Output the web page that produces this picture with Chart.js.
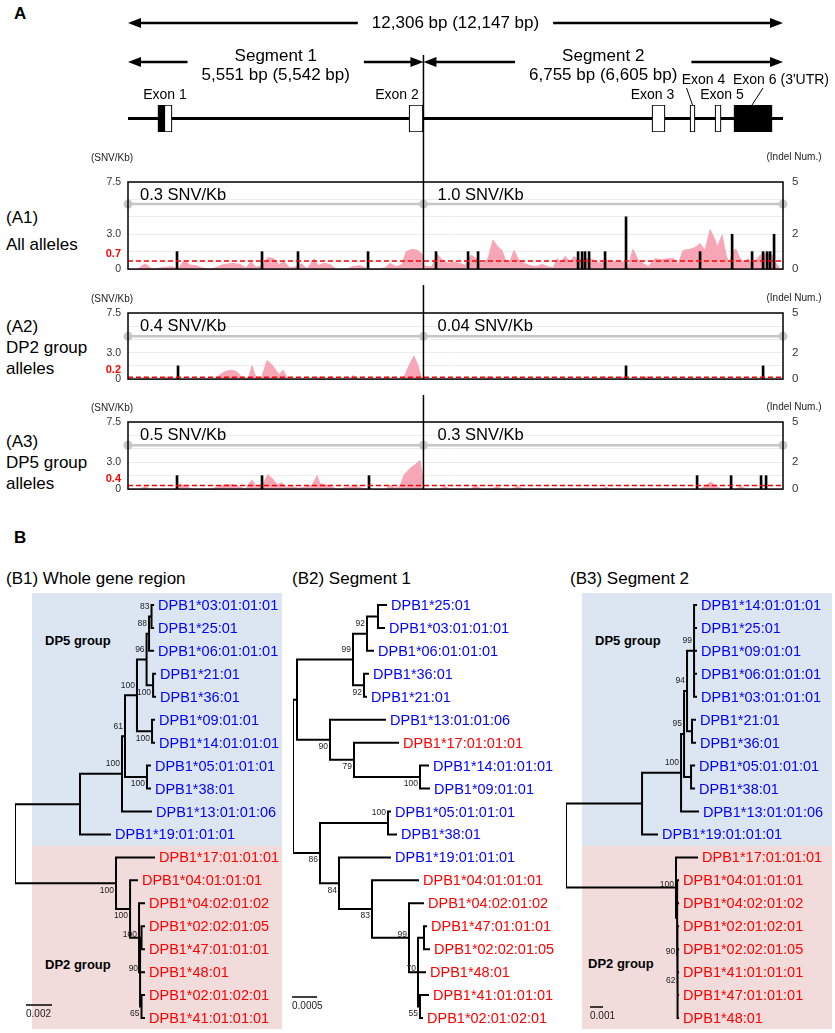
<!DOCTYPE html>
<html>
<head>
<meta charset="utf-8">
<script src="https://cdn.jsdelivr.net/npm/chart.js@4.4.1/dist/chart.umd.min.js"></script>
<style>
body { margin: 0; background: #fff; }
#page { position: relative; width: 835px; height: 1033px; overflow: hidden; font-family: "Liberation Sans", Arial, sans-serif; color: #000; }
canvas { position: absolute; }
.t { position: absolute; transform: translateY(-50%); white-space: nowrap; line-height: 1; }
.big { font-size: 17px; }
.bold { font-weight: bold; }
.grp { font-size: 13px; font-weight: bold; }
.shade { position: absolute; }
</style>
</head>
<body>
<div id="page">
  <div class="shade" style="left:32px;top:593px;width:250px;height:253px;background:#dce6f2"></div>
  <div class="shade" style="left:32px;top:846px;width:250px;height:183px;background:#f2dcdb"></div>
  <div class="shade" style="left:582px;top:593px;width:250px;height:253px;background:#dce6f2"></div>
  <div class="shade" style="left:582px;top:846px;width:250px;height:183px;background:#f2dcdb"></div>

  <div class="t big bold" style="left:14px;top:13px">A</div>
  <div class="t big" style="left:6px;top:217px">(A1)</div>
  <div class="t big" style="left:6px;top:244px">All alleles</div>
  <div class="t big" style="left:6px;top:326px">(A2)</div>
  <div class="t big" style="left:6px;top:347px">DP2 group</div>
  <div class="t big" style="left:6px;top:368px">alleles</div>
  <div class="t big" style="left:6px;top:441px">(A3)</div>
  <div class="t big" style="left:6px;top:462px">DP5 group</div>
  <div class="t big" style="left:6px;top:483px">alleles</div>

  <div class="t big bold" style="left:14px;top:537px">B</div>
  <div class="t big" style="left:6px;top:578px">(B1) Whole gene region</div>
  <div class="t big" style="left:292px;top:578px">(B2) Segment 1</div>
  <div class="t big" style="left:570px;top:578px">(B3) Segment 2</div>
  <div class="t grp" style="left:45px;top:640px">DP5 group</div>
  <div class="t grp" style="left:45px;top:964px">DP2 group</div>
  <div class="t grp" style="left:595px;top:640px">DP5 group</div>
  <div class="t grp" style="left:588px;top:963px">DP2 group</div>

  <canvas id="gene" width="835" height="150" style="left:0;top:0"></canvas>
  <canvas id="a1" width="835" height="135" style="left:0;top:150px"></canvas>
  <canvas id="a2" width="835" height="110" style="left:0;top:285px"></canvas>
  <canvas id="a3" width="835" height="110" style="left:0;top:395px"></canvas>
  <canvas id="b1" width="290" height="443" style="left:0;top:590px"></canvas>
  <canvas id="b2" width="280" height="443" style="left:285px;top:590px"></canvas>
  <canvas id="b3" width="280" height="443" style="left:555px;top:590px"></canvas>
</div>
<script>
// ---- gene structure (bp) ----
const geneLen = 12306;
const segBoundary = 5551;
const totalText = '12,306 bp (12,147 bp)';
const segNames = ['Segment 1', 'Segment 2'];
const segLenText = ['5,551 bp (5,542 bp)', '6,755 bp (6,605 bp)'];
const exonNames = ['Exon 1', 'Exon 2', 'Exon 3', 'Exon 4', 'Exon 5', "Exon 6 (3'UTR)"];
const exonStart = [564, 5280, 9845, 10559, 11029, 11386];
const exonEnd = [827, 5543, 10089, 10653, 11142, 12099];
const utrStart = [564, 11386];
const utrEnd = [695, 12099];

// ---- SNV density / indel panels ----
const segSnvPerKb = [[0.3, 1.0], [0.4, 0.04], [0.5, 0.3]];
const meanSnv = [0.7, 0.2, 0.4];
const refLevel = [5.6, 4.85, 4.9];

const a1Pos = [0,188,319,451,695,827,940,1052,1165,1278,1390,1541,1635,1766,1954,2104,2217,2311,2405,2518,2631,2743,2837,2931,3044,3157,3269,3363,3495,3570,3683,3796,3908,4115,4209,4359,4453,4585,4829,4923,5036,5149,5224,5336,5449,5524,5562,5637,5712,5806,5900,6013,6126,6238,6332,6445,6558,6652,6764,6858,6952,7027,7103,7178,7253,7328,7441,7554,7666,7779,7892,7986,8061,8136,8211,8305,8380,8456,8587,8681,8775,8869,8982,9094,9207,9320,9395,9489,9583,9677,9771,9902,10034,10147,10259,10335,10428,10560,10673,10748,10842,10936,11030,11068,11162,11237,11293,11368,11425,11500,11575,11650,11725,11800,11876,11988,12101,12176,12251,12306];
const a1Snv = [0,0,0.45,0,0.15,0.2,0,0.75,0.35,0.3,0.1,0,0.1,0.35,0.5,0.4,0.1,0.65,0.15,0.3,1.0,0.9,0.4,0.65,0.1,0.2,0.45,0,0.9,0.3,0.5,0.4,0,0,0.2,0.3,0.1,0,0.1,0.5,0.2,0.4,1.5,1.7,1.6,1.3,0.3,0.2,0.2,1.3,0.8,0.5,0.6,0.5,0.3,1.2,0.9,0.5,0.9,2.5,1.9,1.6,0.6,0.7,1.6,0.9,0.5,0.3,0.2,0.4,0.2,0.1,0.9,0.6,1.1,0.6,1.1,0.8,0.9,0.9,0.7,0.5,0.8,0.6,0.7,0.6,0.2,1.7,0.8,0.5,0.2,0.9,0.8,0.9,0.9,0.4,1.6,1.7,1.9,2.2,1.6,3.4,2.5,1.9,2.9,1.2,0.5,1.6,1.7,0.9,0.6,0.9,0.5,0.8,1.2,1.3,1.2,0.5,0,0];
const a1IndelPos = [921,2518,3194,4510,5787,6389,6577,8456,8531,8587,8663,8963,9357,10748,11350,11725,11932,12007,12063,12138];
const a1IndelNum = [1,1,1,1,1,1,1,1,1,1,1,1,3,1,2,1,1,1,1,2];

const a2Pos = [0,225,319,413,639,733,827,1635,1729,1841,1954,2048,2123,2217,2273,2330,2386,2442,2518,2612,2705,2781,2837,2912,2987,3044,3532,3607,3682,3739,3814,3889,4152,4227,4302,4810,4885,4960,5167,5242,5317,5373,5449,5505,5561,6689,6764,6839,7196,7271,7346,8887,8962,9037,9206,9281,9356,9676,9751,9826,12306];
const a2Snv = [0,0,0.25,0,0,0.25,0,0,0.5,0.9,1.0,0.8,0.3,0,0.3,1.5,0.5,0,0.3,2.1,1.6,1.0,0.5,1.0,0.2,0,0,0.3,0,0,0.3,0,0,0.4,0,0,0.3,0,0,1.0,2.0,2.6,1.5,0.3,0,0,0.3,0,0,0.3,0,0,0.3,0,0,0.3,0,0,0.3,0,0];
const a2IndelPos = [940, 9357, 11932];
const a2IndelNum = [1, 1, 1];

const a3Pos = [0,225,319,413,883,977,1090,1202,1578,1691,1841,1973,2104,2217,2273,2330,2405,2518,2630,2724,2799,2893,2969,3081,3194,3325,3457,3551,3607,3720,3833,3945,4133,4284,4396,4547,4847,4922,5016,5110,5186,5298,5411,5486,5542,5561,5862,5956,6050,6425,6538,6651,6839,6933,7027,7215,7327,7421,8905,8981,9056,10747,10860,10953,11047,11160,11423,11517,11611,12306];
const a3Snv = [0,0,0.3,0,0,0.6,0.3,0,0,0.3,0.5,0.5,0.2,0,0.6,1.0,0.3,0.4,1.6,1.1,0.5,0.7,0.2,0.3,0.1,0.2,0.4,1.5,0.6,0.5,0.2,0,0.2,0.3,0.1,0,0,0.4,0.1,0.3,1.6,2.3,2.8,3.2,1.0,0,0,0.3,0,0,0.35,0,0,0.3,0,0,0.3,0,0,0.2,0,0,0.4,0.8,0.3,0,0,0.3,0,0];
const a3IndelPos = [921, 2518, 4528, 10692, 11331, 11894, 11988];
const a3IndelNum = [1, 1, 1, 1, 1, 1, 1];

// ---- phylogenetic trees (branch depth in substitutions/site) ----
const dp2Alleles = ['DPB1*17:01:01:01','DPB1*04:01:01:01','DPB1*04:02:01:02','DPB1*02:02:01:05','DPB1*47:01:01:01','DPB1*48:01','DPB1*02:01:02:01','DPB1*41:01:01:01'];
const N = (d, b, c) => ({ d, b, c });
const L = (n, d) => ({ n, d });

const treeWhole = N(0, null, [
  N(0.0050, null, [
    N(0.00823, 100, [
      N(0.00846, 61, [
        N(0.00938, 100, [
          N(0.01012, 96, [
            N(0.01031, 88, [
              N(0.0105, 83, [L('DPB1*03:01:01:01', 0.01062), L('DPB1*25:01', 0.01062)]),
              L('DPB1*06:01:01:01', 0.01062)]),
            N(0.01062, 100, [L('DPB1*21:01', 0.01077), L('DPB1*36:01', 0.01077)])]),
          N(0.01054, 100, [L('DPB1*09:01:01', 0.01069), L('DPB1*14:01:01:01', 0.01069)])]),
        N(0.01015, 100, [L('DPB1*05:01:01:01', 0.01038), L('DPB1*38:01', 0.01038)])]),
      L('DPB1*13:01:01:06', 0.01046)]),
    L('DPB1*19:01:01:01', 0.00731)]),
  N(0.00777, 100, [
    L('DPB1*17:01:01:01', 0.01069),
    N(0.00885, 100, [
      L('DPB1*04:01:01:01', 0.00938),
      N(0.00954, 100, [
        L('DPB1*04:02:01:02', 0.00992),
        N(0.00962, 90, [
          N(0.00973, null, [L('DPB1*02:02:01:05', 0.00992), L('DPB1*47:01:01:01', 0.00992)]),
          L('DPB1*48:01', 0.00992),
          N(0.00973, 65, [L('DPB1*02:01:02:01', 0.00992), L('DPB1*41:01:01:01', 0.00992)])])])])])]);

const treeSeg1 = N(0, null, [
  N(0.00008, null, [
    N(0.0012, 99, [
      N(0.00148, 92, [
        N(0.0017, null, [L('DPB1*25:01', 0.00186), L('DPB1*03:01:01:01', 0.00182)]),
        L('DPB1*06:01:01:01', 0.0016)]),
      N(0.00142, 92, [L('DPB1*36:01', 0.0015), L('DPB1*21:01', 0.00146)])]),
    N(0.00074, 90, [
      L('DPB1*13:01:01:06', 0.00184),
      N(0.00122, 79, [
        L('DPB1*17:01:01:01', 0.0021),
        N(0.00254, 100, [L('DPB1*14:01:01:01', 0.0027), L('DPB1*09:01:01', 0.00272)])])])]),
  N(0.00054, 86, [
    N(0.0019, 100, [L('DPB1*05:01:01:01', 0.00194), L('DPB1*38:01', 0.00206)]),
    N(0.00092, 84, [
      L('DPB1*19:01:01:01', 0.00194),
      N(0.00158, 83, [
        L('DPB1*04:01:01:01', 0.0025),
        N(0.00232, 99, [
          L('DPB1*04:02:01:02', 0.0026),
          N(0.0025, 70, [
            N(0.00262, null, [L('DPB1*47:01:01:01', 0.00266), L('DPB1*02:02:01:05', 0.00272)]),
            L('DPB1*48:01', 0.00264),
            N(0.00254, 55, [L('DPB1*41:01:01:01', 0.0027), L('DPB1*02:01:02:01', 0.00258)])])])])])])]);

const treeSeg2 = N(0, null, [
  N(0.00585, null, [
    N(0.00885, 100, [
      N(0.00908, 95, [
        N(0.00931, 94, [
          N(0.00985, 99, [L('DPB1*14:01:01:01', 0.01), L('DPB1*25:01', 0.01), L('DPB1*09:01:01', 0.01), L('DPB1*06:01:01:01', 0.01), L('DPB1*03:01:01:01', 0.01)]),
          N(0.00969, null, [L('DPB1*21:01', 0.00992), L('DPB1*36:01', 0.00992)])]),
        N(0.00962, null, [L('DPB1*05:01:01:01', 0.00985), L('DPB1*38:01', 0.00985)])]),
      L('DPB1*13:01:01:06', 0.01015)]),
    L('DPB1*19:01:01:01', 0.007)]),
  N(0.00846, 100, [
    L('DPB1*17:01:01:01', 0.01008),
    N(0.00854, null, [
      L('DPB1*04:01:01:01', 0.00862), L('DPB1*04:02:01:02', 0.00862),
      N(0.00856, 90, [
        L('DPB1*02:01:02:01', 0.00862),
        N(0.00858, 62, [L('DPB1*02:02:01:05', 0.00862), L('DPB1*41:01:01:01', 0.00862), L('DPB1*47:01:01:01', 0.00862), L('DPB1*48:01', 0.00862)])])])])]);

// ---------------------------------------------------------------
const FONT = '"Liberation Sans", Arial, sans-serif';
Chart.defaults.font.family = FONT;
Chart.defaults.color = '#222';
Chart.defaults.animation = false;
Chart.defaults.events = [];
Chart.defaults.plugins.legend.display = false;
Chart.defaults.plugins.tooltip.enabled = false;

// gene diagram: arrows, labels, exon captions
const geneDecor = {
  id: 'geneDecor',
  afterDraw(chart) {
    const { ctx, scales: { x }, chartArea: a } = chart;
    const px = v => x.getPixelForValue(v);
    ctx.save();
    ctx.fillStyle = '#000';
    ctx.strokeStyle = '#000';
    ctx.textAlign = 'center';
    ctx.textBaseline = 'middle';
    ctx.font = '17px ' + FONT;

    function arrow(x0, x1, y, lines, ty) {
      const c = (x0 + x1) / 2;
      const tw = Math.max(...lines.map(s => ctx.measureText(s).width));
      const g0 = c - tw / 2 - 14, g1 = c + tw / 2 + 14;
      const h = 13, w = 5;
      ctx.lineWidth = 2.5;
      ctx.beginPath();
      ctx.moveTo(x0 + h - 2, y); ctx.lineTo(g0, y);
      ctx.moveTo(g1, y); ctx.lineTo(x1 - h + 2, y);
      ctx.stroke();
      ctx.beginPath(); ctx.moveTo(x0, y); ctx.lineTo(x0 + h, y - w); ctx.lineTo(x0 + h, y + w); ctx.closePath(); ctx.fill();
      ctx.beginPath(); ctx.moveTo(x1, y); ctx.lineTo(x1 - h, y - w); ctx.lineTo(x1 - h, y + w); ctx.closePath(); ctx.fill();
      lines.forEach((s, k) => ctx.fillText(s, c, ty[k]));
    }
    arrow(px(0), px(geneLen), 23, [totalText], [23]);
    arrow(px(0), px(segBoundary), 62, [segNames[0], segLenText[0]], [56, 75]);
    arrow(px(segBoundary), px(geneLen), 62, [segNames[1], segLenText[1]], [56, 75]);

    // segment boundary
    ctx.lineWidth = 1.5;
    ctx.beginPath();
    ctx.moveTo(px(segBoundary), 55);
    ctx.lineTo(px(segBoundary), chart.height);
    ctx.stroke();

    // exon captions
    ctx.font = '14px ' + FONT;
    const dx = [0, -19, -6, 11, 4, 28];
    const high = [false, false, false, true, false, true];
    exonNames.forEach((nm, i) => {
      const cx = (px(exonStart[i]) + px(exonEnd[i])) / 2;
      const ly = high[i] ? 80 : 95;
      ctx.fillText(nm, cx + dx[i], ly);
      if (high[i]) {
        ctx.lineWidth = 1;
        ctx.beginPath();
        if (i === 3) { ctx.moveTo(cx - 6, 88); ctx.lineTo(cx, a.top); }
        else { ctx.moveTo(cx + 10, 88); ctx.lineTo(cx - 1, a.top); }
        ctx.stroke();
      }
    });
    ctx.restore();
  }
};

new Chart(document.getElementById('gene'), {
  type: 'bar',
  data: {
    datasets: [
      { type: 'line', data: [{ x: 0, y: 0 }, { x: geneLen, y: 0 }], borderColor: '#000', borderWidth: 3, pointRadius: 0, order: 3 },
      { indexAxis: 'y', data: exonStart.map((s, i) => ({ x: [s, exonEnd[i]], y: 0 })), backgroundColor: '#fff', borderColor: '#000', borderWidth: 1.2, borderSkipped: false, barThickness: 27, grouped: false, order: 2 },
      { indexAxis: 'y', data: utrStart.map((s, i) => ({ x: [s, utrEnd[i]], y: 0 })), backgroundColor: '#000', borderColor: '#000', borderWidth: 1.2, borderSkipped: false, barThickness: 27, grouped: false, order: 1 }
    ]
  },
  options: {
    responsive: false,
    layout: { padding: { left: 128, right: 52, top: 105, bottom: 18 } },
    scales: {
      x: { type: 'linear', min: 0, max: geneLen, display: false, offset: false },
      y: { type: 'linear', min: -1, max: 1, display: false, offset: false }
    }
  },
  plugins: [geneDecor]
});

// density panels
function fmtDensity(v) { return v < 0.1 ? v.toFixed(2) : v.toFixed(1); }

function makePanel(id, i, pos, snv, indelPos, indelNum, padTop, padBottom, unitGap) {
  const decor = {
    id: 'panelDecor',
    afterDraw(chart) {
      const { ctx, chartArea: a, scales: { x, y } } = chart;
      const bx = x.getPixelForValue(segBoundary);
      ctx.save();
      ctx.strokeStyle = '#000';
      ctx.lineWidth = 1.5;
      ctx.strokeRect(a.left, a.top, a.right - a.left, a.bottom - a.top);
      ctx.beginPath(); ctx.moveTo(bx, 0); ctx.lineTo(bx, a.bottom); ctx.stroke();

      ctx.fillStyle = '#000';
      ctx.textBaseline = 'middle';
      ctx.textAlign = 'left';
      ctx.font = '16.5px ' + FONT;
      ctx.fillText(fmtDensity(segSnvPerKb[i][0]) + ' SNV/Kb', x.getPixelForValue(0) + 12, a.top + 13);
      ctx.fillText(fmtDensity(segSnvPerKb[i][1]) + ' SNV/Kb', bx + 14, a.top + 13);

      ctx.textAlign = 'right';
      ctx.font = 'bold 11px ' + FONT;
      ctx.fillStyle = '#ff0000';
      ctx.fillText(meanSnv[i].toFixed(1), a.left - 7, y.getPixelForValue(meanSnv[i]) - 7);

      ctx.textAlign = 'center';
      ctx.font = '10px ' + FONT;
      ctx.fillStyle = '#222';
      ctx.fillText('(SNV/Kb)', 112, a.top - unitGap);
      ctx.fillText('(Indel Num.)', 794, a.top - unitGap - 1);
      ctx.restore();
    }
  };
  new Chart(document.getElementById(id), {
    type: 'line',
    data: {
      datasets: [
        { data: pos.map((p, k) => ({ x: p, y: snv[k] })), fill: 'origin', backgroundColor: '#f7a6b6', borderColor: '#f7a6b6', borderWidth: 1, pointRadius: 0, tension: 0, order: 5 },
        { data: [{ x: 0, y: refLevel[i] }, { x: segBoundary, y: refLevel[i] }, { x: geneLen, y: refLevel[i] }], borderColor: '#c6c6c6', borderWidth: 2.5, pointRadius: 4.5, pointBackgroundColor: '#c6c6c6', pointBorderWidth: 0, clip: false, order: 4 },
        { type: 'bar', yAxisID: 'y2', data: indelPos.map((p, k) => ({ x: p, y: indelNum[k] })), backgroundColor: '#000', barThickness: 2, order: 2 },
        { data: [{ x: 0, y: meanSnv[i] }, { x: geneLen, y: meanSnv[i] }], borderColor: '#ff0000', borderWidth: 1.5, borderDash: [5, 3], pointRadius: 0, order: 1 }
      ]
    },
    options: {
      responsive: false,
      layout: { padding: { left: 0, right: 0, top: padTop, bottom: padBottom } },
      scales: {
        x: { type: 'linear', min: 0, max: geneLen, display: false, offset: false },
        y: {
          position: 'left', min: 0, max: 7.5,
          grid: { display: false, drawTicks: false }, border: { display: false },
          afterFit(s) { s.width = 128; },
          afterBuildTicks(s) { s.ticks = [0, 3, 7.5].map(v => ({ value: v })); },
          ticks: { padding: 7, autoSkip: false, color: '#333', font: { size: 10.5 }, callback: v => v === 0 ? '0' : Number(v).toFixed(1) }
        },
        y2: {
          position: 'right', min: 0, max: 5,
          grid: { color: '#ececec', drawTicks: false }, border: { display: false },
          afterFit(s) { s.width = 52; },
          ticks: { stepSize: 1, padding: 9, autoSkip: false, color: '#333', font: { size: 11.5 }, callback: v => (v === 0 || v === 2 || v === 5) ? String(v) : '' }
        }
      }
    },
    plugins: [decor]
  });
}

makePanel('a1', 0, a1Pos, a1Snv, a1IndelPos, a1IndelNum, 32, 6, 24);
makePanel('a2', 1, a2Pos, a2Snv, a2IndelPos, a2IndelNum, 28, 6, 14);
makePanel('a3', 2, a3Pos, a3Snv, a3IndelPos, a3IndelNum, 27, 7, 14);

// trees
function layoutTree(root) {
  const segs = [], leaves = [], nodes = [];
  let idx = 0;
  (function walk(n) {
    if (!n.c) { n.y = idx++; leaves.push(n); return; }
    n.c.forEach(walk);
    n.y = (n.c[0].y + n.c[n.c.length - 1].y) / 2;
    nodes.push(n);
  })(root);
  nodes.forEach(n => {
    const f = n.c[0], l = n.c[n.c.length - 1];
    segs.push({ x: f.d, y: f.y }, { x: n.d, y: f.y }, { x: n.d, y: l.y }, { x: l.d, y: l.y }, { x: null, y: null });
    n.c.slice(1, -1).forEach(ch => segs.push({ x: n.d, y: ch.y }, { x: ch.d, y: ch.y }, { x: null, y: null }));
    n.c.forEach((ch, k) => { if (ch.c) ch.side = (k === n.c.length - 1 && k > 0) ? 1 : -1; });
  });
  return { segs, leaves, nodes };
}

function makeTree(id, root, xmax, padLeft, bar) {
  const t = layoutTree(root);
  const labels = {
    id: 'treeLabels',
    afterDatasetsDraw(chart) {
      const { ctx, scales: { x, y } } = chart;
      ctx.save();
      ctx.textBaseline = 'middle';
      ctx.textAlign = 'left';
      ctx.font = '14.5px ' + FONT;
      t.leaves.forEach(l => {
        ctx.fillStyle = dp2Alleles.includes(l.n) ? '#ff0000' : '#0000ff';
        ctx.fillText(l.n, x.getPixelForValue(l.d) + 5, y.getPixelForValue(l.y) + 1);
      });
      ctx.font = '8.5px ' + FONT;
      ctx.fillStyle = '#222';
      ctx.textAlign = 'right';
      t.nodes.forEach(n => {
        if (n.b == null) return;
        const many = n.c.length > 2 || n.c.some(ch => ch.c && ch.c.length > 2);
        const off = n.side > 0 ? (many ? -3 : 7) : -10;
        ctx.fillText(String(n.b), x.getPixelForValue(n.d) - 2, y.getPixelForValue(n.y) + off);
      });
      // scale bar
      const len = x.getPixelForValue(bar.len) - x.getPixelForValue(0);
      ctx.strokeStyle = '#000';
      ctx.lineWidth = 1.5;
      ctx.beginPath(); ctx.moveTo(bar.left, bar.y); ctx.lineTo(bar.left + len, bar.y); ctx.stroke();
      ctx.textAlign = 'left';
      ctx.font = '10px ' + FONT;
      ctx.fillText(bar.text, bar.left, bar.y + 9);
      ctx.restore();
    }
  };
  new Chart(document.getElementById(id), {
    type: 'scatter',
    data: { datasets: [{ data: t.segs, showLine: true, spanGaps: false, borderColor: '#000', borderWidth: 2, borderCapStyle: 'square', borderJoinStyle: 'miter', pointRadius: 0 }] },
    options: {
      responsive: false,
      layout: { padding: { left: padLeft, right: 0, top: 3.5, bottom: 3.5 } },
      scales: {
        x: { type: 'linear', min: 0, max: xmax, display: false },
        y: { type: 'linear', min: -0.5, max: 18.5, reverse: true, display: false }
      }
    },
    plugins: [labels]
  });
}

makeTree('b1', treeWhole, 0.02115, 15, { len: 0.002, left: 26, y: 415, text: '0.002' });
makeTree('b2', treeSeg1, 0.00544, 8, { len: 0.0005, left: 7, y: 407, text: '0.0005' });
makeTree('b3', treeSeg2, 0.02069, 11, { len: 0.001, left: 35, y: 417, text: '0.001' });
</script>
</body>
</html>
